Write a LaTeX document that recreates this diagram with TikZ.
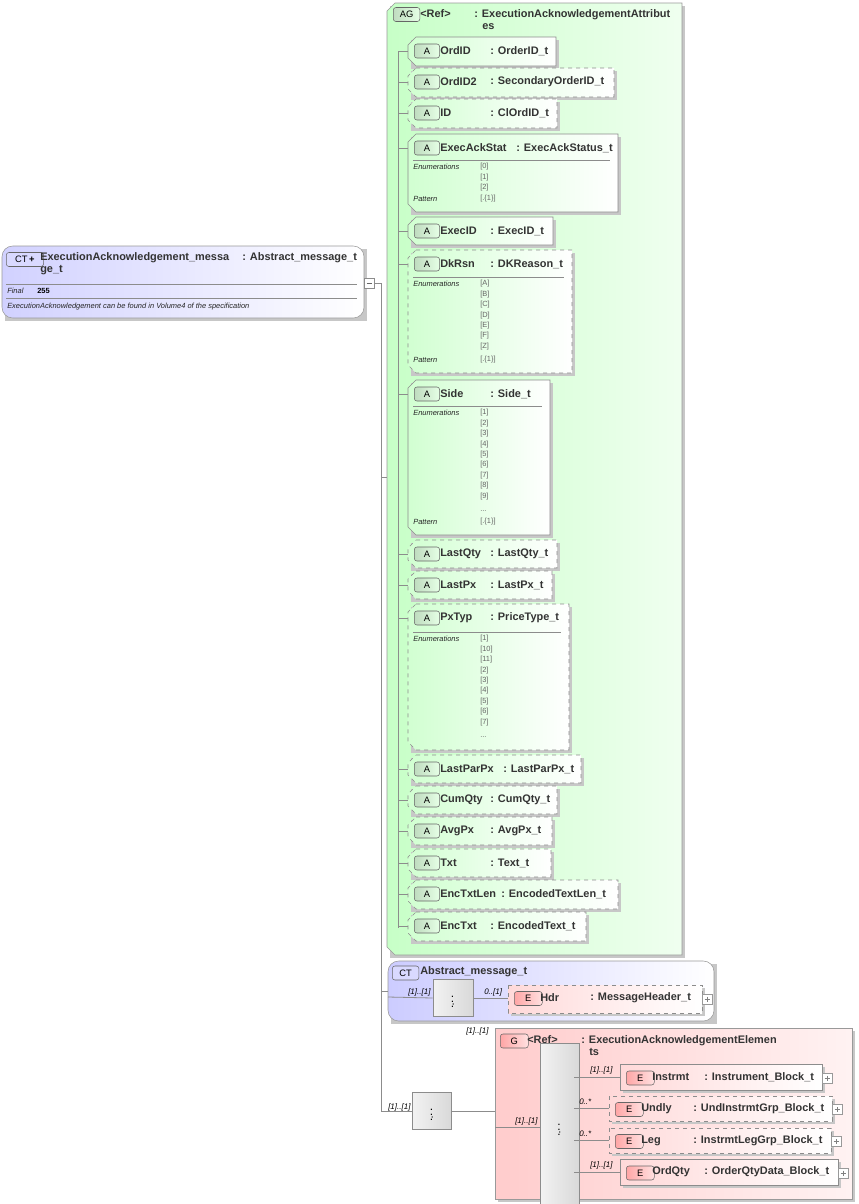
\documentclass[tikz,border=0pt]{standalone}
\usepackage{fontspec}
\setmainfont{Liberation Sans}
\begin{document}
\begin{tikzpicture}[x=0.75pt,y=-0.75pt,
  lbl/.style={font=\fontsize{8.2}{9}\selectfont\bfseries\color{black!80},anchor=west,inner sep=0},
  sm/.style={font=\fontsize{5.6}{6}\selectfont\itshape\color{black!85},anchor=west,inner sep=0},
  val/.style={font=\fontsize{5.6}{6}\selectfont\color{black!60},anchor=west,inner sep=0},
  card/.style={font=\fontsize{6}{7}\selectfont\itshape,anchor=west,inner sep=0},
  conn/.style={draw=black!45,line width=0.6pt},
  badge/.style={draw=black!60,rounded corners=2pt,font=\fontsize{7}{8}\selectfont,inner sep=0,minimum height=10.5,anchor=west}]
\useasboundingbox (0,0) rectangle (859,1204);

\newcommand\attrbox[8]{%
  \fill[black!22] (411,#1+3)--(#3+3,#1+3)--(#3+3,#2+3)--(411,#2+3)--cycle;
  \path[left color=green!18,right color=white,draw=black!45,#6]
    (416,#1)--(#3,#1)--(#3,#2)--(416,#2)--(408,#2-8)--(408,#1+8)--cycle;
  \node[badge,left color=green!45!black!25,right color=green!10,minimum width=19] (#8b) at (414,#1+14) {A};
  \node[lbl] (#8) at (440,#1+14) {#4};
  \node[lbl] (#8t) at (#7,#1+14) {#5};
  \coordinate (#8w) at (408,#1+14);
  \draw[conn] (398,#1+14) -- (#8w);
}
\newcommand\enumblock[3]{%
  \draw[black!45] (413,#1)--(#2-8,#1);
  \node[sm] at (413,#1+7) {Enumerations};
  \foreach \v [count=\i] in {#3} {\node[val] at (480,#1+7+10.4*\i-10.4) {[\v]};}
}

% ===== root
\fill[black!22] (5,249) rectangle (367,321);
\path[left color=blue!18,right color=white,draw=black!40,rounded corners=8] (2,246) rectangle (364,318);
\node[badge,fill=blue!15,minimum width=28] (ctb) at (6,259.5) {CT\,\textbf{+}};
\node[lbl,align=left] (root) at (40,264) {\parbox[t]{200pt}{ExecutionAcknowledgement\_messa\\ge\_t}};
\node[lbl] (roott) at (242,258) {: Abstract\_message\_t};
\draw[black!45] (6,284)--(357,284);
\node[sm] at (7,291) {Final};
\node[font=\fontsize{5.6}{6}\selectfont\bfseries,anchor=west,inner sep=0] at (37,290.5) {255};
\draw[black!45] (6,298)--(357,298);
\node[sm] at (7,307) {ExecutionAcknowledgement can be found in Volume4 of the specification};
\node[draw=black!45,fill=white,minimum size=7.5,inner sep=0] (minus) at (369,283) {};
\draw[black!60] (366.5,283)--(371.5,283);

% ===== AG box
\fill[black!22] (390,6) rectangle (685,958);
\path[left color=green!22,right color=green!6,draw=black!40] (395,3)--(682,3)--(682,955)--(395,955)--(387,947)--(387,11)--cycle;
\node[badge,left color=green!45!black!25,right color=green!10,minimum width=20] (agb) at (393,14.5) {AG};
\node[lbl] (ag) at (420,14) {<Ref>};
\node[lbl,align=left] (agt) at (474,19.5) {\parbox[t]{200pt}{: ExecutionAcknowledgementAttribut\\\hspace*{6pt}es}};
\coordinate (agw) at (387,477);
\draw[conn] (398,51)--(398,928);

\attrbox{37}{66}{556}{OrdID}{: OrderID\_t}{}{490}{a1}
\attrbox{68}{97}{614}{OrdID2}{: SecondaryOrderID\_t}{dashed}{490}{a2}
\attrbox{99}{128}{557}{ID}{: ClOrdID\_t}{dashed}{490}{a3}
\attrbox{134}{212}{618}{ExecAckStat}{: ExecAckStatus\_t}{}{516}{a4}
\enumblock{160}{618}{0,1,2}
\node[sm] at (413,199) {Pattern}; \node[val] at (480,199) {[.\{1\}]};
\attrbox{217}{245}{553}{ExecID}{: ExecID\_t}{}{490}{a5}
\attrbox{250}{373}{572}{DkRsn}{: DKReason\_t}{dashed}{490}{a6}
\enumblock{277}{572}{A,B,C,D,E,F,Z}
\node[sm] at (413,360) {Pattern}; \node[val] at (480,360) {[.\{1\}]};
\attrbox{380}{535}{550}{Side}{: Side\_t}{}{490}{a7}
\enumblock{406}{550}{1,2,3,4,5,6,7,8,9}
\node[val] at (480,511) {...};
\node[sm] at (413,522) {Pattern}; \node[val] at (480,522) {[.\{1\}]};
\attrbox{540}{568}{557}{LastQty}{: LastQty\_t}{dashed}{490}{a8}
\attrbox{571}{599}{552}{LastPx}{: LastPx\_t}{dashed}{490}{a9}
\attrbox{604}{750}{569}{PxTyp}{: PriceType\_t}{dashed}{490}{a10}
\enumblock{632}{569}{1,10,11,2,3,4,5,6,7}
\node[val] at (480,737) {...};
\attrbox{755}{783}{581}{LastParPx}{: LastParPx\_t}{dashed}{503}{a11}
\attrbox{786}{814}{557}{CumQty}{: CumQty\_t}{dashed}{490}{a12}
\attrbox{817}{845}{552}{AvgPx}{: AvgPx\_t}{dashed}{490}{a13}
\attrbox{849}{877}{551}{Txt}{: Text\_t}{dashed}{490}{a14}
\attrbox{880}{909}{618}{EncTxtLen}{: EncodedTextLen\_t}{dashed}{501}{a15}
\attrbox{912}{941}{586}{EncTxt}{: EncodedText\_t}{dashed}{490}{a16}

% ===== CT Abstract_message_t
\fill[black!22] (391,964) rectangle (717,1024);
\path[left color=blue!20,right color=white,draw=black!40,rounded corners=8] (388,961) rectangle (714,1021);
\node[badge,fill=blue!15,minimum width=20] (ctab) at (392,973) {CT};
\node[lbl] (cta) at (420,972) {Abstract\_message\_t};
\coordinate (ctaw) at (388,997);
\fill[black!22] (440,986) rectangle (470,1014);
\node[draw=black!45,left color=black!5,right color=black!15,minimum width=30,minimum height=28,inner sep=0] (seq1) at (453,998) {};
\node[font=\fontsize{9}{9}\selectfont] at (seq1) {$\cdot\!\!\vdots$};
\node[card] at (408,992) {[1]..[1]};
\draw[conn] (ctaw) -- (seq1.west);
\fill[black!22] (511,988) rectangle (705,1016);
\path[left color=red!15,right color=white,draw=black!45,dashed] (508,985) rectangle (702,1013);
\node[badge,left color=red!35,right color=red!12,minimum width=21] (hdrb) at (514,998.5) {E};
\node[lbl] (hdr) at (540,998) {Hdr};
\node[lbl] (hdrt) at (590,998) {: MessageHeader\_t};
\node[card] at (484,992) {0..[1]};
\draw[conn] (seq1.east) -- (508,998);
\node[draw=black!40,fill=white,minimum size=7.5,inner sep=0] at (707,999) {};
\draw[black!50] (704.5,999)--(709.5,999) (707,996.5)--(707,1001.5);

% ===== root connectors
\coordinate (trunk) at (381,283);
\draw[conn] (minus.east) -- (trunk) -- (381,1112);
\draw[conn] (381,477) -- (agw);
\draw[conn] (381,991) -- (388,991);

% ===== sequence 2
\fill[black!22] (420,1099) rectangle (450,1127);
\node[draw=black!45,left color=black!5,right color=black!15,minimum width=29,minimum height=28,inner sep=0] (seq2) at (432,1111) {};
\node[font=\fontsize{9}{9}\selectfont] at (seq2) {$\cdot\!\!\vdots$};
\node[card] at (388,1107) {[1]..[1]};
\draw[conn] (381,1111) -- (seq2.west);

% ===== G box
\fill[black!22] (498,1031) rectangle (855,1202);
\path[left color=red!20,right color=red!5,draw=black!40] (495,1028) rectangle (852,1199);
\node[card] at (466,1031) {[1]..[1]};
\node[badge,left color=red!35,right color=red!12,minimum width=21] (gb) at (500,1041) {G};
\node[lbl] (g) at (527,1040) {<Ref>};
\node[lbl,align=left] (gt) at (581,1045.5) {\parbox[t]{200pt}{: ExecutionAcknowledgementElemen\\\hspace*{6pt}ts}};
\fill[black!22] (548,1067) rectangle (577,1191);
\node[draw=black!45,left color=black!5,right color=black!15,minimum width=29,minimum height=124,inner sep=0] (seq3) at (559.5,1126) {};
\node[font=\fontsize{9}{9}\selectfont] at (seq3) {$\cdot\!\!\vdots$};
\draw[conn] (seq2.east) -- (495,1111);
\draw[conn] (495,1127) -- (seq3.west |- 0,1127);
\node[card] at (515,1121) {[1]..[1]};

\newcommand\elem[8]{%
  \fill[black!22] (#3+3,#1+3) rectangle (#4+3,#2+3);
  \path[left color=red!15,right color=white,draw=black!45,#7] (#3,#1) rectangle (#4,#2);
  \node[badge,left color=red!35,right color=red!12,minimum width=21] (#5b) at (#3+6,#1/2+#2/2+1) {E};
  \node[lbl] (#5) at (#3+32,#1/2+#2/2) {#5};
  \node[lbl] (#5t) at (#3+84,#1/2+#2/2) {#6};
  \draw[conn] (574,#1/2+#2/2) -- (#3,#1/2+#2/2);
  \node[card] at (#3-30,#1/2+#2/2-7) {#8};
  \node[draw=black!40,fill=white,minimum size=7.5,inner sep=0] at (#4+5,#1/2+#2/2+1) {};
  \draw[black!50] (#4+2.5,#1/2+#2/2+1)--(#4+7.5,#1/2+#2/2+1) (#4+5,#1/2+#2/2-1.5)--(#4+5,#1/2+#2/2+3.5);
}
\elem{1064}{1090}{620}{822}{Instrmt}{: Instrument\_Block\_t}{}{[1]..[1]}
\elem{1096}{1121}{609}{832}{Undly}{: UndInstrmtGrp\_Block\_t}{dashed}{0..*}
\elem{1128}{1153}{609}{831}{Leg}{: InstrmtLegGrp\_Block\_t}{dashed}{0..*}
\elem{1159}{1185}{620}{838}{OrdQty}{: OrderQtyData\_Block\_t}{}{[1]..[1]}
\end{tikzpicture}
\end{document}
